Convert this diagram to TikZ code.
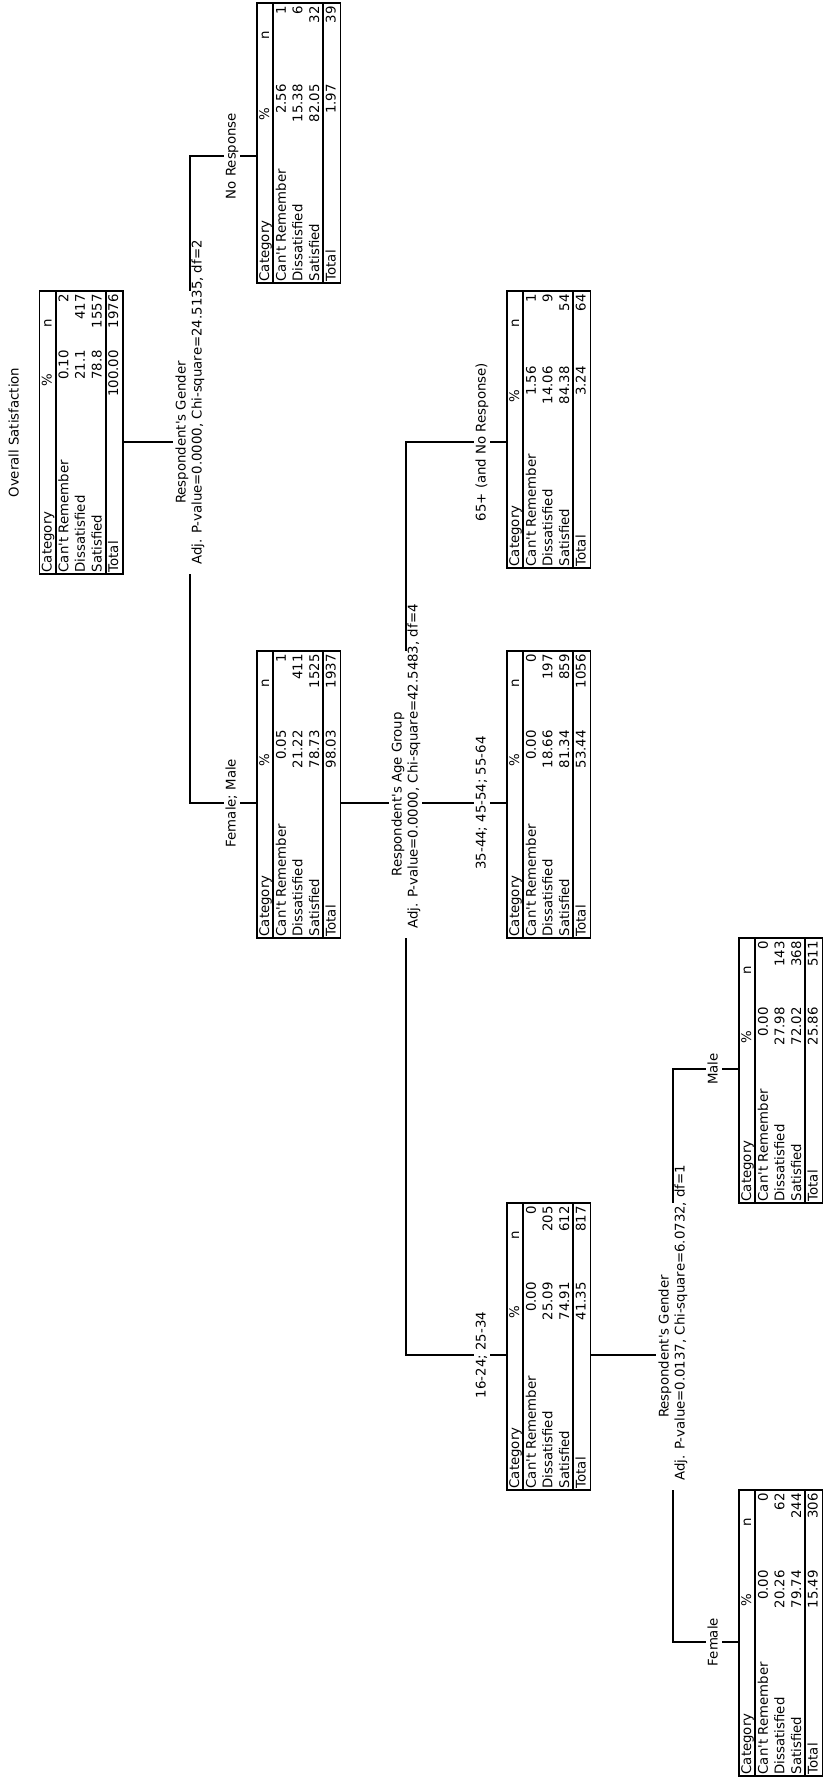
\documentclass[tikz,border=0pt]{standalone}
\usepackage{fontspec}
\setmainfont{DejaVu Sans}
\usetikzlibrary{calc}
\tikzset{
  edge/.style={line width=1.8pt},
  tabframe/.style={draw, line width=1.8pt, inner sep=0pt, minimum width=83.5pt},
  tabrule/.style={line width=1.8pt},
  cell/.style={rotate=90, inner sep=0pt},
  tag/.style={rotate=90, inner sep=0pt, text height=10pt, text depth=3pt},
  branch/.style={tag, fill=white, inner sep=1.5pt},
  gap/.style={fill=white, inner sep=0pt, minimum width=33pt},
}
% name, left, top, bottom, % column, link y, %/n rows
\newcommand{\sumtable}[7]{%
  \node[tabframe, minimum height={#4-#3}] (#1) at (#2+41.75, {(#3+#4)/2}) {};
  \draw[tabrule] ([xshift=17pt]#1.north west) -- ([xshift=17pt]#1.south west);
  \draw[tabrule] ([xshift=67pt]#1.north west) -- ([xshift=67pt]#1.south west);
  \node[cell, anchor=mid west] at (#2+9.5, #4-1.5) {Category};
  \node[cell, anchor=mid west] at (#2+9.5, #3+#5+37) {\%};
  \node[cell, anchor=mid west] at (#2+9.5, #3+37) {n};
  \foreach \share/\cnt [count=\i] in {#7} {
    \node[cell, anchor=mid west] at (#2+9.5+16.6*\i, #4-1.5) {\ifcase\i\or Can\textquotesingle t Remember\or Dissatisfied\or Satisfied\or Total\fi};
    \node[cell, anchor=mid east] at (#2+9.5+16.6*\i, #3+#5) {\share};
    \node[cell, anchor=mid east] at (#2+9.5+16.6*\i, #3+3) {\cnt};
  }
  \coordinate (#1-in) at (#2, #6);
  \coordinate (#1-out) at (#2+83.5, #6);
  \coordinate (#1-tag) at (#2-25, #6);
}

\begin{document}
\begin{tikzpicture}[x=1pt, y=-1pt, font=\fontsize{13.3}{16}\selectfont]
  \useasboundingbox (0,0) rectangle (824,1780);

  %%%%% NODES %%%%%
  \sumtable{root}{39.5}{291}{574}{59}{442}{0.10/2, 21.1/417, 78.8/1557, 100.00/1976}
  \sumtable{nresp}{257}{3}{283}{81}{156}{2.56/1, 15.38/6, 82.05/32, 1.97/39}
  \sumtable{fm}{257}{651}{938}{79}{803}{0.05/1, 21.22/411, 78.73/1525, 98.03/1937}
  \sumtable{old}{507}{291}{568}{75}{442}{1.56/1, 14.06/9, 84.38/54, 3.24/64}
  \sumtable{mid}{507}{651}{938}{79}{803}{0.00/0, 18.66/197, 81.34/859, 53.44/1056}
  \sumtable{young}{507}{1203}{1490}{79}{1355}{0.00/0, 25.09/205, 74.91/612, 41.35/817}
  \sumtable{male}{739}{938}{1203}{69}{1069}{0.00/0, 27.98/143, 72.02/368, 25.86/511}
  \sumtable{female}{739}{1490}{1776}{80}{1642}{0.00/0, 20.26/62, 79.74/244, 15.49/306}

  \node[tag] (title) at ($(root.west)+(-23.5,0)$) {Overall Satisfaction};

  \coordinate (rootbar) at (190,0);
  \coordinate (agebar) at (406,0);
  \coordinate (genbar) at (673,0);

  %%%%% LINKS %%%%%
  \draw[edge] (root-out) -- (root-out -| rootbar);
  \draw[edge] (nresp-in) -| (rootbar |- fm-in) -- (fm-in);
  \draw[edge] (fm-out) -- (mid-in);
  \draw[edge] (old-in) -| (agebar |- young-in) -- (young-in);
  \draw[edge] (young-out) -- (young-out -| genbar);
  \draw[edge] (male-in) -| (genbar |- female-in) -- (female-in);

  %%%%% SPLITS %%%%%
  \node[gap, minimum height=283pt] (rootgap) at ($(rootbar |- root.center)+(-0.5,0)$) {};
  \node[tag] (rootvar) at ($(rootbar |- root.center)+(-8,0)$) {Respondent\textquotesingle s Gender};
  \node[tag, anchor=west] (rootstat) at ($(rootbar |- root.south)+(8,-10)$) {Adj. P-value=0.0000, Chi-square=24.5135, df=2};

  \node[gap, minimum height=287pt] (agegap) at ($(agebar |- fm.center)+(-0.5,0)$) {};
  \node[tag] (agevar) at ($(agebar |- fm.center)+(-8,0)$) {Respondent\textquotesingle s Age Group};
  \node[tag, anchor=west] (agestat) at ($(agebar |- fm.south)+(8,-10)$) {Adj. P-value=0.0000, Chi-square=42.5483, df=4};

  \node[gap, minimum height=287pt] (gengap) at ($(genbar |- young.center)+(-0.5,0)$) {};
  \node[tag] (genvar) at ($(genbar |- young.center)+(-8,0)$) {Respondent\textquotesingle s Gender};
  \node[tag, anchor=west] (genstat) at ($(genbar |- young.south)+(8,-10)$) {Adj. P-value=0.0137, Chi-square=6.0732, df=1};

  %%%%% BRANCHES %%%%%
  \node[branch] (nresplbl) at (nresp-tag) {No Response};
  \node[branch] (fmlbl) at (fm-tag) {Female; Male};
  \node[branch] (oldlbl) at (old-tag) {65+ (and No Response)};
  \node[branch] (midlbl) at (mid-tag) {35-44; 45-54; 55-64};
  \node[branch] (younglbl) at (young-tag) {16-24; 25-34};
  \node[branch] (malelbl) at (male-tag) {Male};
  \node[branch] (femalelbl) at (female-tag) {Female};
\end{tikzpicture}
\end{document}
